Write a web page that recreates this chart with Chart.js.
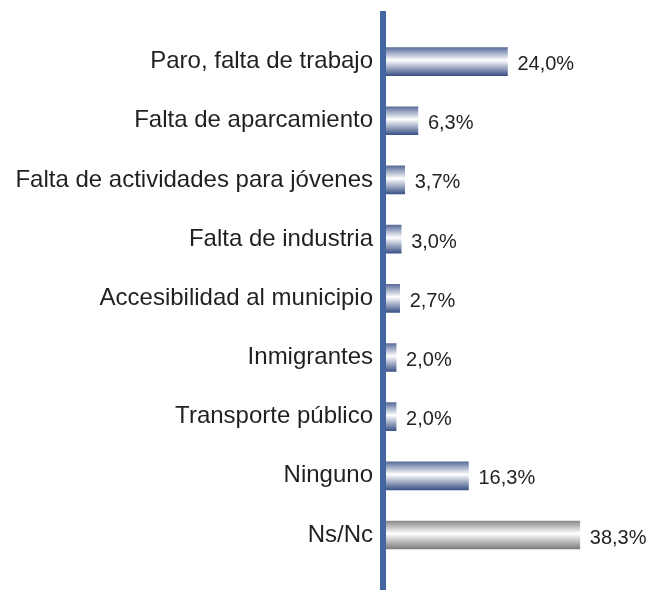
<!DOCTYPE html>
<html>
<head>
<meta charset="utf-8">
<script src="https://cdn.jsdelivr.net/npm/chart.js@4/dist/chart.umd.min.js"></script>
<style>
  html, body { margin: 0; padding: 0; background: #fff; }
  #wrap { width: 650px; height: 592px; }
</style>
</head>
<body>
<div id="wrap"><canvas id="problemChart"></canvas></div>
<script>
const categories = [
    'Paro, falta de trabajo',
    'Falta de aparcamiento',
    'Falta de actividades para jóvenes',
    'Falta de industria',
    'Accesibilidad al municipio',
    'Inmigrantes',
    'Transporte público',
    'Ninguno',
    'Ns/Nc'
];
const values = [24.0, 6.3, 3.7, 3.0, 2.7, 2.0, 2.0, 16.3, 38.3];
const valueLabels = ['24,0%', '6,3%', '3,7%', '3,0%', '2,7%', '2,0%', '2,0%', '16,3%', '38,3%'];

// 막대 그라데이션 (위-아래 진하고 가운데 흰색)
function barGradient(context) {
    const chart = context.chart;
    if (!chart.chartArea || !chart.scales.y) return '#4f6396';
    const y = chart.scales.y.getPixelForValue(context.dataIndex);
    const g = chart.ctx.createLinearGradient(0, y - 14, 0, y + 14);
    if (context.dataIndex === categories.length - 1) {
        g.addColorStop(0, '#8a8a8a');
        g.addColorStop(0.45, '#ffffff');
        g.addColorStop(1, '#7c7c7c');
    } else {
        g.addColorStop(0, '#5a6c9a');
        g.addColorStop(0.45, '#ffffff');
        g.addColorStop(1, '#3c5286');
    }
    return g;
}

const axisLine = {
    id: 'axisLine',
    afterDatasetsDraw(chart) {
        const { ctx, chartArea } = chart;
        ctx.save();
        ctx.fillStyle = '#4565a0';
        ctx.fillRect(chartArea.left - 6, chartArea.top - 21, 6, chart.height - chartArea.top + 19);
        ctx.restore();
    }
};

const valueText = {
    id: 'valueText',
    afterDatasetsDraw(chart) {
        const { ctx } = chart;
        const meta = chart.getDatasetMeta(0);
        ctx.save();
        ctx.font = '20px "Liberation Sans", Arial, sans-serif';
        ctx.fillStyle = '#231f20';
        ctx.textAlign = 'left';
        ctx.textBaseline = 'middle';
        meta.data.forEach((bar, i) => {
            ctx.fillText(valueLabels[i], bar.x + 10, bar.y + 3);
        });
        ctx.restore();
    }
};

const chart = new Chart(document.getElementById('problemChart').getContext('2d'), {
    type: 'bar',
    data: {
        labels: categories,
        datasets: [{
            data: values,
            backgroundColor: barGradient,
            borderWidth: 0,
            barThickness: 28
        }]
    },
    options: {
        indexAxis: 'y',
        responsive: true,
        maintainAspectRatio: false,
        animation: false,
        layout: {
            padding: { top: 32, bottom: 25, right: 11, left: 0 }
        },
        plugins: {
            legend: { display: false },
            tooltip: { enabled: false }
        },
        scales: {
            x: {
                display: false,
                min: 0,
                max: 50
            },
            y: {
                afterFit(scale) { scale.width = 386; },
                grid: { display: false, drawTicks: false },
                border: { display: false },
                ticks: {
                    padding: 13,
                    color: '#231f20',
                    font: { family: '"Liberation Sans", Arial, sans-serif', size: 24 }
                }
            }
        }
    },
    plugins: [axisLine, valueText]
});
</script>
</body>
</html>
